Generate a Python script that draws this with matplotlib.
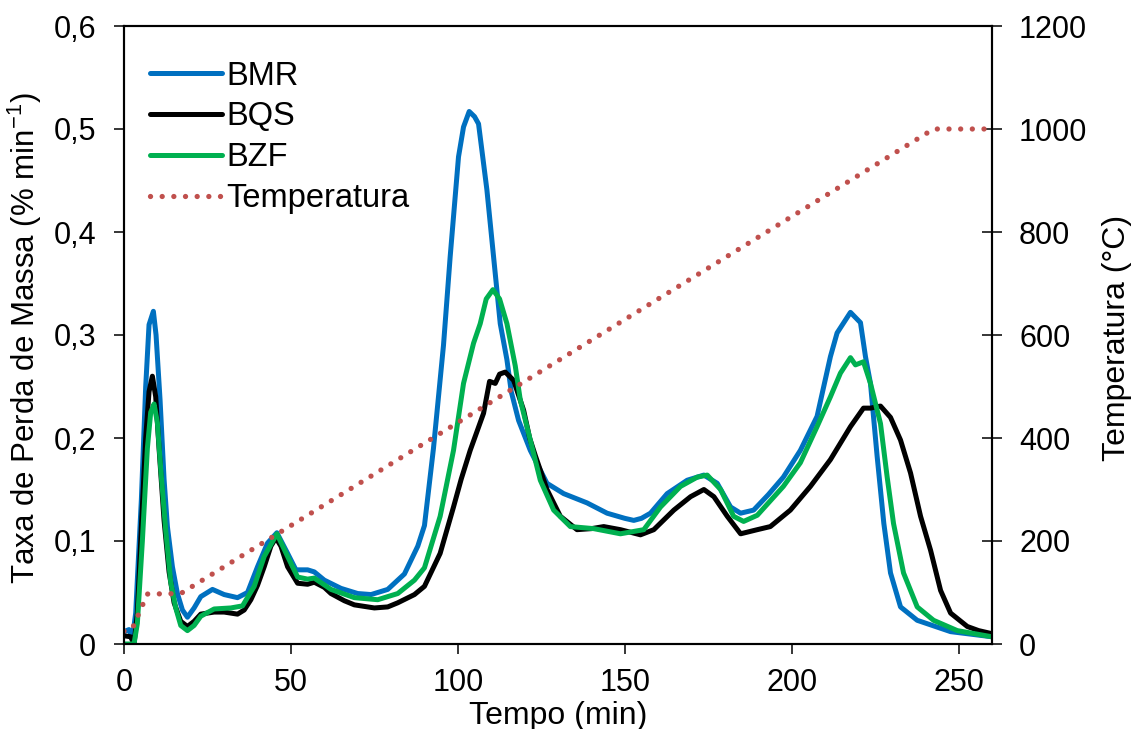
import matplotlib
matplotlib.use("Agg")
import matplotlib.pyplot as plt

plt.rcParams["font.family"] = ["Liberation Sans", "DejaVu Sans"]
plt.rcParams["font.size"] = 22

# ---------------------------------------------------------------------------
# Data (tempo em min, taxa em % min-1)
# ---------------------------------------------------------------------------
bmr_t = [0, 1.5, 2.5, 3.5, 5.2, 6.5, 7.5, 8.8, 9.6, 10.8, 12, 13, 14.5, 16, 17.5, 19,
         21, 23, 26.5, 30, 34, 37, 40, 43, 45.8, 49, 51.5, 55, 57, 60, 65, 70, 74, 79,
         84, 88, 90, 92.7, 95.7, 97.7, 100.2, 101.7, 103.4, 105, 106.2, 108.7, 110.7,
         112.7, 114.7, 116, 118.2, 121.7, 126.7, 131.7, 138.7, 144.7, 150, 152.7, 155,
         157.7, 162.7, 168.7, 173.7, 177.7, 181.7, 184.7, 188.6, 193, 197.5, 202.6,
         207.6, 211.6, 213.6, 217.6, 220.6, 222.1, 223.6, 225.6, 227.6, 229.6, 232.6,
         237.6, 247.6, 260]
bmr_v = [0.012, 0.014, 0.005, 0.03, 0.14, 0.25, 0.31, 0.323, 0.30, 0.237, 0.16, 0.114,
         0.075, 0.049, 0.033, 0.026, 0.035, 0.046, 0.053, 0.048, 0.045, 0.05, 0.075,
         0.098, 0.108, 0.088, 0.072, 0.072, 0.070, 0.062, 0.054, 0.049, 0.048, 0.053,
         0.068, 0.095, 0.115, 0.19, 0.29, 0.376, 0.473, 0.502, 0.517, 0.512, 0.505,
         0.441, 0.376, 0.311, 0.276, 0.245, 0.217, 0.188, 0.156, 0.146, 0.137, 0.127,
         0.122, 0.120, 0.122, 0.127, 0.146, 0.159, 0.164, 0.156, 0.133, 0.127, 0.130,
         0.145, 0.162, 0.188, 0.221, 0.279, 0.302, 0.322, 0.312, 0.279, 0.253, 0.182,
         0.117, 0.069, 0.036, 0.023, 0.012, 0.007]

bqs_t = [0, 2, 3, 4, 5.3, 6.5, 7.5, 8.5, 9.5, 10.5, 12, 13.5, 15, 17, 19, 21, 23, 27,
         30, 34, 36, 38, 40, 42, 44, 45.5, 47, 49, 52, 55, 57, 60, 62, 66, 69, 75, 79,
         82, 87, 90, 94.7, 98.7, 101, 103.7, 107.7, 109.5, 111.2, 112.5, 114.2, 116.7,
         119.7, 121.5, 123.2, 126.7, 130.7, 135.7, 140, 143.7, 148.7, 154.7, 158.7,
         164.7, 169.7, 173.7, 176.7, 180.7, 184.7, 189.7, 193.6, 199.6, 205.6, 211.6,
         217.6, 221.5, 223.6, 226.6, 229.6, 232.6, 235.6, 238.6, 241.6, 244.6, 247.6,
         252.6, 256, 260]
bqs_v = [0.008, 0.007, 0.0, 0.03, 0.12, 0.20, 0.245, 0.26, 0.24, 0.19, 0.12, 0.07, 0.04,
         0.022, 0.017, 0.022, 0.029, 0.031, 0.031, 0.029, 0.033, 0.043, 0.057, 0.075,
         0.095, 0.103, 0.095, 0.075, 0.059, 0.058, 0.060, 0.055, 0.049, 0.042, 0.038,
         0.035, 0.036, 0.040, 0.048, 0.056, 0.088, 0.133, 0.16, 0.188, 0.224, 0.255,
         0.253, 0.262, 0.264, 0.256, 0.227, 0.20, 0.183, 0.150, 0.124, 0.111, 0.112,
         0.114, 0.111, 0.106, 0.111, 0.130, 0.143, 0.150, 0.143, 0.124, 0.107, 0.111,
         0.114, 0.130, 0.153, 0.179, 0.211, 0.229, 0.229, 0.231, 0.220, 0.198, 0.166,
         0.124, 0.091, 0.052, 0.030, 0.017, 0.013, 0.010]

bzf_t = [0, 3, 4, 5.5, 7, 8, 9, 10, 11, 12.5, 14, 15.5, 17, 19, 21, 23, 27, 32, 35.5,
         39, 42, 45.8, 49, 52, 55, 57, 62, 69, 76, 82, 87, 90, 94.7, 98.7, 101.7, 104.7,
         106.7, 108.5, 110.5, 112.5, 114.7, 117.2, 118.7, 121.7, 124.7, 128.7, 133.7,
         140.7, 148.7, 155.7, 160.7, 166.7, 171.7, 174.7, 178.7, 182.6, 185.6, 189.7,
         197.5, 202.6, 207.6, 211.6, 214.6, 217.6, 219.1, 221.5, 223.6, 226.6, 228.6,
         230.5, 233.5, 237.6, 242.5, 249.6, 260]
bzf_v = [0.0, 0.0, 0.02, 0.10, 0.19, 0.225, 0.233, 0.215, 0.17, 0.11, 0.06, 0.035, 0.018,
         0.013, 0.018, 0.027, 0.034, 0.035, 0.037, 0.056, 0.085, 0.107, 0.085, 0.065,
         0.063, 0.064, 0.053, 0.045, 0.043, 0.049, 0.062, 0.074, 0.124, 0.188, 0.253,
         0.292, 0.311, 0.335, 0.344, 0.335, 0.311, 0.27, 0.237, 0.198, 0.159, 0.130,
         0.114, 0.112, 0.107, 0.111, 0.133, 0.153, 0.162, 0.164, 0.150, 0.124, 0.119,
         0.125, 0.153, 0.176, 0.211, 0.240, 0.263, 0.278, 0.271, 0.274, 0.253, 0.214,
         0.162, 0.117, 0.069, 0.036, 0.023, 0.013, 0.007]

# programa de temperatura (°C)
temp_t = [0, 2.5, 7, 17, 242.5, 260]
temp_c = [25, 30, 97, 98, 1000, 1000]

x_ticks = [0, 50, 100, 150, 200, 250]
y_ticks = [0, 0.1, 0.2, 0.3, 0.4, 0.5, 0.6]
y_labels = ["0", "0,1", "0,2", "0,3", "0,4", "0,5", "0,6"]
y2_ticks = [0, 200, 400, 600, 800, 1000, 1200]

BLUE = "#0070C0"
BLACK = "#000000"
GREEN = "#00B050"
RED = "#C0504D"

fig = plt.figure(figsize=(11.32, 7.29), dpi=100)
ax1 = fig.add_axes([124 / 1132, 1 - 644 / 729, 868 / 1132, 618 / 729])

lw = 3.6
ax1.plot(bmr_t, bmr_v, color=BLUE, lw=lw, label="BMR", solid_capstyle="round")
ax1.plot(bqs_t, bqs_v, color=BLACK, lw=lw, label="BQS", solid_capstyle="round")
ax1.plot(bzf_t, bzf_v, color=GREEN, lw=lw, label="BZF", solid_capstyle="round")

ax1.set_xlim(0, 260)
ax1.set_ylim(0, 0.6)
ax1.set_xticks(x_ticks)
ax1.set_yticks(y_ticks)
ax1.set_yticklabels(y_labels)
ax1.tick_params(axis="both", direction="out", length=7.2, width=1.1, labelsize=22)
ax1.tick_params(axis="y", pad=13)
ax1.tick_params(axis="x", pad=10)

ax2 = ax1.twinx()
ax2.plot(temp_t, temp_c, color=RED, lw=3.8, linestyle=(0, (0.01, 2.2)),
         dash_capstyle="round", label="Temperatura")
ax2.set_ylim(0, 1200)
ax2.set_yticks(y2_ticks)
ax2.tick_params(axis="y", direction="inout", length=15, width=1.1, labelsize=22, pad=12)

for ax in (ax1, ax2):
    for sp in ax.spines.values():
        sp.set_linewidth(1.5)

fig.text(25 / 1132, 1 - 338 / 729, "Taxa de Perda de Massa (% min$^{\\mathregular{-1}}$)",
         rotation=90, ha="center", va="center", fontsize=22.5)
fig.text(1117 / 1132, 1 - 338 / 729, "Temperatura (°C)",
         rotation=90, ha="center", va="center", fontsize=23)
fig.text(558 / 1132, 1 - 716 / 729, "Tempo (min)", ha="center", va="center", fontsize=23)

h1, l1 = ax1.get_legend_handles_labels()
h2, l2 = ax2.get_legend_handles_labels()
ax2.legend(h1 + h2, l1 + l2, loc="upper left", bbox_to_anchor=(0.03, 0.944),
           frameon=False, fontsize=23.5, handlelength=2.2, handletextpad=0.15,
           labelspacing=0.3, borderpad=0, borderaxespad=0)

fig.savefig("out.png", dpi=100, facecolor="white")
